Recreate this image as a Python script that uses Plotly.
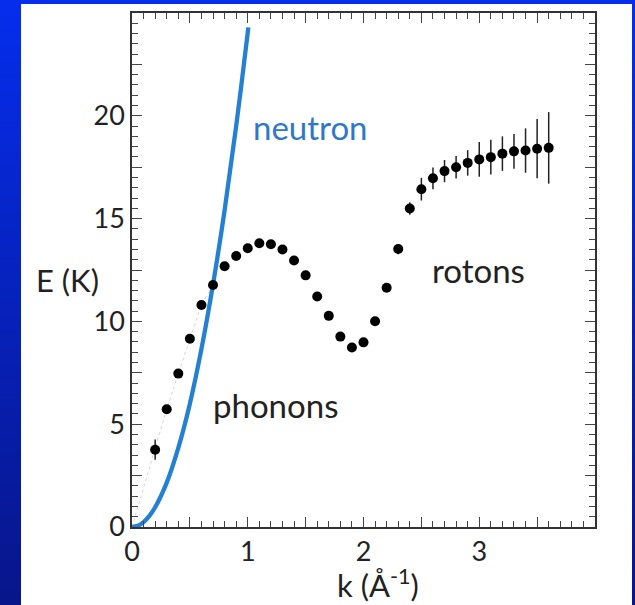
import plotly.graph_objects as go

k_data = [0.2, 0.3, 0.4, 0.5, 0.6, 0.7, 0.8, 0.9, 1.0, 1.1, 1.2, 1.3, 1.4, 1.5,
          1.6, 1.7, 1.8, 1.9, 2.0, 2.1, 2.2, 2.3, 2.4, 2.5, 2.6, 2.7, 2.8, 2.9,
          3.0, 3.1, 3.2, 3.3, 3.4, 3.5, 3.6]
E_data = [3.76, 5.73, 7.46, 9.16, 10.8, 11.77, 12.68, 13.18, 13.56, 13.80, 13.75,
          13.50, 12.96, 12.24, 11.21, 10.27, 9.26, 8.73, 8.98, 10.01, 11.64, 13.52,
          15.49, 16.43, 16.96, 17.31, 17.50, 17.71, 17.88, 17.99, 18.16, 18.27,
          18.31, 18.40, 18.44]
E_err = [0.49, 0.2, 0.0, 0.0, 0.0, 0.0, 0.0, 0.0, 0.0, 0.0, 0.0,
         0.0, 0.0, 0.0, 0.0, 0.0, 0.0, 0.0, 0.0, 0.0, 0.2, 0.25,
         0.3, 0.55, 0.53, 0.54, 0.55, 0.62, 0.85, 0.85, 0.84, 0.85,
         1.08, 1.44, 1.74]

# faint dotted guide at low k
k_guide = [0.0, 0.2, 0.3, 0.4, 0.5, 0.6, 0.7]
E_guide = [0.0, 3.76, 5.73, 7.46, 9.16, 10.8, 11.77]

# free neutron curve
k_neutron = [0.0, 0.05, 0.1, 0.15, 0.2, 0.3, 0.4, 0.5, 0.6, 0.7, 0.8, 0.9, 1.0, 1.005]
E_neutron = [0.0, 0.06, 0.24, 0.54, 0.96, 2.16, 3.85, 6.0, 8.66, 11.8, 15.4, 19.5, 24.05, 24.3]

x_tickvals = [0, 0.5, 1, 1.5, 2, 2.5, 3, 3.5, 4]
x_ticktext = ["0", "", "1", "", "2", "", "3", "", ""]
y_tickvals = [0, 2.5, 5, 7.5, 10, 12.5, 15, 17.5, 20, 22.5, 25]
y_ticktext = ["0", "", "5", "", "10", "", "15", "", "20", "", ""]

FONT = "Lato"
W, H = 635, 605
ML, MR, MT, MB = 132, 40, 13, 78
PW, PH = W - ML - MR, H - MT - MB

def px_x(px):
    return (px - ML) / PW

def px_y(py):
    return (H - MB - py) / PH

fig = go.Figure()

fig.add_trace(go.Scatter(x=k_guide, y=E_guide, mode="lines",
                         line=dict(color="#d6d6d6", width=1, dash="dot"),
                         hoverinfo="skip", showlegend=False))
fig.add_trace(go.Scatter(x=k_neutron, y=E_neutron, mode="lines",
                         line=dict(color="#2380d2", width=4.3, shape="spline"),
                         showlegend=False))
fig.add_trace(go.Scatter(x=k_data, y=E_data, mode="markers",
                         marker=dict(color="black", size=10),
                         error_y=dict(type="data", array=E_err, visible=True,
                                      color="#222", thickness=1.5, width=0),
                         showlegend=False))

# background: vertical blue gradient + white panel
shapes = []
N = 40
top = (5, 45, 235)
bot = (8, 22, 140)
for i in range(N):
    t = i / (N - 1)
    c = tuple(int(round(top[j] + (bot[j] - top[j]) * t)) for j in range(3))
    y0 = i * H / N
    y1 = (i + 1) * H / N + 1
    shapes.append(dict(type="rect", xref="paper", yref="paper",
                       x0=px_x(-5), x1=px_x(W + 5), y0=px_y(y1), y1=px_y(y0),
                       fillcolor="rgb(%d,%d,%d)" % c, line=dict(width=0), layer="below"))
shapes.append(dict(type="rect", xref="paper", yref="paper",
                   x0=px_x(21), x1=px_x(632), y0=px_y(H + 5), y1=px_y(4),
                   fillcolor="white", line=dict(width=0), layer="below"))

annotations = [
    dict(x=1.538, y=19.46, xref="x", yref="y", text="neutron", showarrow=False,
         xanchor="center", yanchor="middle",
         font=dict(family=FONT, size=33, color="#2e78c8")),
    dict(x=1.24, y=5.93, xref="x", yref="y", text="phonons", showarrow=False,
         xanchor="center", yanchor="middle",
         font=dict(family=FONT, size=33, color="#222")),
    dict(x=2.99, y=12.5, xref="x", yref="y", text="rotons", showarrow=False,
         xanchor="center", yanchor="middle",
         font=dict(family=FONT, size=33, color="#222")),
    dict(x=px_x(67), y=px_y(280), xref="paper", yref="paper", text="E (K)",
         showarrow=False, xanchor="center", yanchor="middle",
         font=dict(family=FONT, size=31, color="#222")),
    dict(x=px_x(378), y=px_y(583), xref="paper", yref="paper",
         text="k (Å<sup>-1</sup>)", showarrow=False, xanchor="center", yanchor="middle",
         font=dict(family=FONT, size=31, color="#222")),
]

axis_common = dict(showline=True, linecolor="#333", linewidth=1.5, mirror="ticks",
                   ticks="inside", ticklen=10, tickwidth=1.2, tickcolor="#444",
                   showgrid=False, zeroline=False,
                   tickfont=dict(family=FONT, size=27, color="#222"))

fig.update_xaxes(range=[0, 4], tickmode="array", tickvals=x_tickvals, ticktext=x_ticktext,
                 minor=dict(dtick=0.1, ticks="inside", ticklen=6, tickcolor="#444", tickwidth=1),
                 **axis_common)
fig.update_yaxes(range=[0, 25], tickmode="array", tickvals=y_tickvals, ticktext=y_ticktext,
                 minor=dict(dtick=0.5, ticks="inside", ticklen=6, tickcolor="#444", tickwidth=1),
                 **axis_common)

fig.update_layout(width=W, height=H, margin=dict(l=ML, r=MR, t=MT, b=MB),
                  paper_bgcolor="rgb(8,30,180)", plot_bgcolor="rgba(0,0,0,0)",
                  shapes=shapes, annotations=annotations, showlegend=False)

fig.write_html("out.html", config={"displayModeBar": False},
               post_script="document.body.style.margin='0';document.body.style.overflow='hidden';")
